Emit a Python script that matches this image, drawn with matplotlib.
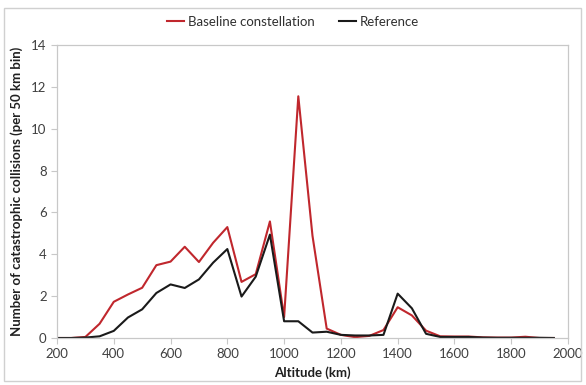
import matplotlib
matplotlib.use("Agg")
import matplotlib.pyplot as plt
from matplotlib.patches import Rectangle

# Altitude bins (km) and collision counts per 50 km bin
altitude = list(range(200, 2000, 50))
baseline = [0.0, 0.0, 0.05, 0.68, 1.73, 2.08, 2.4, 3.48, 3.65, 4.36, 3.63, 4.55, 5.3, 2.68,
            3.05, 5.57, 1.0, 11.55, 4.88, 0.45, 0.15, 0.04, 0.1, 0.38, 1.47, 1.08, 0.35,
            0.08, 0.07, 0.07, 0.03, 0.02, 0.02, 0.06, 0.0, 0.0]
reference = [0.0, 0.0, 0.02, 0.08, 0.34, 0.98, 1.37, 2.15, 2.56, 2.39, 2.8, 3.6, 4.25, 1.98,
             2.93, 4.94, 0.8, 0.8, 0.26, 0.3, 0.15, 0.12, 0.12, 0.15, 2.12, 1.42, 0.2,
             0.05, 0.05, 0.05, 0.02, 0.01, 0.01, 0.01, 0.01, 0.0]

plt.rcParams["font.family"] = ["Lato", "DejaVu Sans"]

W, H = 586, 385
fig = plt.figure(figsize=(W / 100, H / 100), dpi=100)
ax = fig.add_axes([57 / W, 1 - 338 / H, 511 / W, 293 / H])

# outer chart border
fig.patches.append(Rectangle((4 / W, 4 / H), 577 / W, 373 / H, transform=fig.transFigure,
                             fill=False, edgecolor="#d0d0d0", linewidth=1))

ax.plot(altitude, baseline, color="#c0272d", linewidth=1.5, label="Baseline constellation")
ax.plot(altitude, reference, color="#1a1a1a", linewidth=1.5, label="Reference")

ax.set_xlim(200, 2000)
ax.set_ylim(0, 14)
ax.set_xticks(range(200, 2001, 200))
ax.set_yticks(range(0, 15, 2))
for s in ax.spines.values():
    s.set_color("#c8c8c8")
    s.set_linewidth(0.9)
ax.tick_params(colors="#c8c8c8", labelcolor="#404040", labelsize=9.5, length=4, width=0.8)

ax.set_xlabel("Altitude (km)", fontsize=9.5, fontweight="bold", color="#202020", labelpad=4)
ax.set_ylabel("Number of catastrophic collisions (per 50 km bin)", fontsize=9.5,
              fontweight="bold", color="#202020", labelpad=6)

fig.legend(loc="center", bbox_to_anchor=(0.5, 1 - 22 / H), ncol=2, frameon=False,
           fontsize=9.5, handlelength=1.3, handletextpad=0.3, columnspacing=1.8,
           labelcolor="#303030")

fig.savefig("out.png", dpi=100)
